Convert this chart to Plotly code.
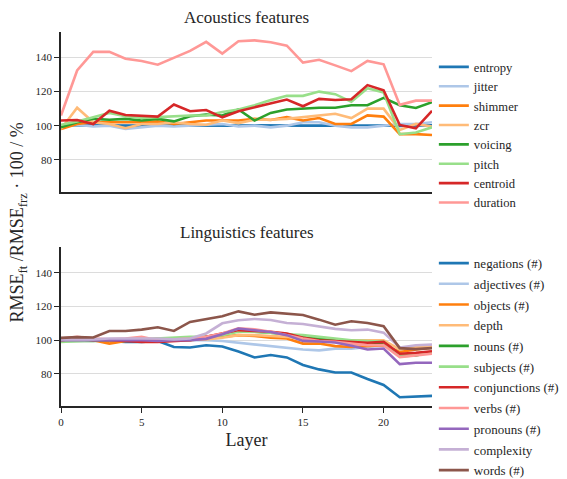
import plotly.graph_objects as go

layers = list(range(24))

# Acoustics features
ac_names = ["entropy", "jitter", "shimmer", "zcr", "voicing", "pitch", "centroid", "duration"]
entropy = [100.2, 100.1, 100, 100.3, 99.8, 100, 100.1, 100, 100.2, 100, 100.1, 100, 100.2, 100, 100.1, 100, 100, 100.1, 100, 100, 100.1, 99.8, 100, 100.2]
jitter = [100, 100.5, 99.5, 100, 98, 99, 100, 99.5, 100, 100.5, 101, 99.5, 100, 99, 100, 102, 102, 100, 99, 99, 100, 101, 101, 102]
shimmer = [98, 101, 102, 102, 102, 102, 102.5, 101, 102, 103, 103, 103, 104, 103.3, 105, 103, 104.5, 101, 101, 106, 105.3, 95, 95, 94.5]
zcr = [98, 110.5, 102, 101, 98.5, 101, 101, 102, 101, 100.5, 103, 101.5, 103.5, 103.5, 104, 105, 106, 107, 104.5, 110, 110, 97.5, 101, 99.5]
voicing = [99, 102, 104, 103.5, 104, 103, 104, 102.5, 105.5, 106.5, 106, 109.5, 103, 107.5, 109.5, 110, 110.5, 110.5, 112, 112, 116.3, 112, 110.4, 113.8]
pitch = [100.5, 102.5, 105, 107.5, 105.5, 104.5, 105, 105.5, 106, 106, 108, 109.5, 112, 115, 117.5, 117.5, 120, 118.5, 114, 122, 119.5, 95, 96, 99]
centroid = [103, 103.3, 101, 108.8, 106.3, 105.9, 105.3, 112.4, 108.5, 109.2, 104.9, 108.5, 110.8, 113.2, 115.3, 111.4, 115.7, 115.1, 115.5, 123.8, 120.8, 100.4, 98.4, 108.7]
duration = [106, 132.4, 143.3, 143.3, 139.3, 138, 135.8, 140, 143.9, 149.2, 142.3, 149.6, 150.1, 149, 147, 137, 138.7, 135.4, 132, 138, 136, 112.2, 114.7, 114.7]

# Linguistics features
li_names = ["negations (#)", "adjectives (#)", "objects (#)", "depth", "nouns (#)", "subjects (#)",
            "conjunctions (#)", "verbs (#)", "pronouns (#)", "complexity", "words (#)"]
negations = [100.5, 100, 100, 99.5, 99, 99, 99.5, 96, 95.7, 97, 96.3, 93.3, 89.8, 91.2, 89.8, 85.3, 82.7, 80.9, 80.9, 77, 73.5, 66.2, 66.4, 67]
adjectives = [100, 100, 100, 100, 100, 100, 100, 100, 100, 100, 99.5, 98.5, 97.5, 96.5, 95.5, 94.5, 94, 95, 95, 96, 97, 93.5, 95, 96]
objects = [99.5, 100, 100, 98, 99.5, 100, 101, 100, 100, 101, 102, 103, 102.5, 101.5, 101, 98, 98, 96.5, 96, 96.5, 97, 93, 94.5, 95.5]
depth = [100, 100, 100, 100, 100.5, 100.5, 100.5, 100, 100.5, 100.5, 101.5, 103, 103, 102.5, 102, 100.5, 100, 100, 100, 100, 100, 94.5, 96, 96.5]
nouns = [99.5, 99.5, 99.5, 100, 100, 100, 100.5, 101, 101, 102, 103.5, 105.5, 105, 104.5, 103.5, 102, 101, 100, 99.5, 99, 98, 90.5, 91, 93]
subjects = [99, 99.5, 100, 100, 100, 100.5, 101, 101.5, 102, 102, 103, 105, 105, 104.5, 103.5, 103, 102, 101, 100, 99.5, 99, 91.5, 92, 93]
conjunctions = [100, 101, 100, 100, 99.5, 99, 99, 99.5, 100, 102, 104, 106, 105.5, 105, 104, 101.5, 100, 99.5, 99, 98.5, 99, 92, 92.5, 93.5]
verbs = [101, 102, 101, 100.5, 101, 102, 100, 100.5, 101, 102, 104, 107, 106.5, 105, 103, 101, 99.5, 99, 98, 97, 97, 90, 91, 92]
pronouns = [100, 100, 100, 100, 100, 100, 99.5, 100, 100, 100.8, 103.5, 106.9, 105.9, 104.9, 103, 99.6, 99.2, 98.6, 96.7, 94.5, 95.1, 85.8, 86.6, 86.6]
complexity = [100.5, 100.5, 100.5, 101, 101, 101, 101, 100.5, 101, 104, 110, 111.8, 112.6, 112, 110.2, 109.6, 108.3, 106.7, 105.9, 106.3, 104.5, 95.7, 97, 97.4]
words = [101.4, 101.8, 101.6, 105.5, 105.5, 106.3, 107.7, 105.5, 110.8, 112.6, 114.2, 117.1, 115.1, 116.5, 115.7, 114.9, 112.2, 109.2, 111.2, 110.2, 108.3, 95.3, 94.7, 95.3]

ac_series = [entropy, jitter, shimmer, zcr, voicing, pitch, centroid, duration]
li_series = [negations, adjectives, objects, depth, nouns, subjects, conjunctions, verbs, pronouns, complexity, words]

palette = ["#1f77b4", "#aec7e8", "#ff7f0e", "#ffbb78", "#2ca02c", "#98df8a",
           "#d62728", "#ff9896", "#9467bd", "#c5b0d5", "#8c564b"]

FONT = "Liberation Serif"
fig = go.Figure()

for i, (name, vals) in enumerate(zip(ac_names, ac_series)):
    fig.add_trace(go.Scatter(x=layers, y=vals, mode="lines", name=name,
                             line=dict(color=palette[i], width=2.6),
                             xaxis="x", yaxis="y", legend="legend"))

for i, (name, vals) in enumerate(zip(li_names, li_series)):
    fig.add_trace(go.Scatter(x=layers, y=vals, mode="lines", name=name,
                             line=dict(color=palette[i], width=2.6),
                             xaxis="x2", yaxis="y2", legend="legend2",
                             legendgroup="l" + name))

yax = dict(range=[61, 155], tickvals=[80, 100, 120, 140], showgrid=True,
           gridcolor="#dcdcdc", gridwidth=1, zeroline=False, showline=True,
           linecolor="#262626", linewidth=1.5, ticks="outside", ticklen=5,
           tickcolor="#262626", tickfont=dict(size=11, family=FONT, color="#262626"))
xbase = dict(range=[0, 23], zeroline=False, showgrid=False, showline=True,
             linecolor="#262626", linewidth=1.5)

fig.update_layout(
    width=567, height=479,
    margin=dict(l=53, r=143, t=24, b=81, autoexpand=False),
    paper_bgcolor="white", plot_bgcolor="white",
    font=dict(family=FONT, color="#262626"),
    xaxis=dict(**xbase, domain=[0, 1], anchor="y", showticklabels=False, ticks=""),
    yaxis=dict(**yax, domain=[0.572, 1], anchor="x"),
    xaxis2=dict(**xbase, domain=[0, 1], anchor="y2", tickvals=[0, 5, 10, 15, 20],
                ticks="outside", ticklen=5, tickcolor="#262626",
                tickfont=dict(size=11, family=FONT, color="#262626"),
                title=dict(text="Layer", font=dict(size=18, family=FONT), standoff=6)),
    yaxis2=dict(**yax, domain=[0, 0.424], anchor="x2"),
    legend=dict(x=1.005, y=0.946, xanchor="left", yanchor="top",
                font=dict(size=12.6, family=FONT),
                bgcolor="rgba(0,0,0,0)", itemwidth=30),
    legend2=dict(x=1.005, y=0.422, xanchor="left", yanchor="top",
                 font=dict(size=13, family=FONT), tracegroupgap=0.8,
                 bgcolor="rgba(0,0,0,0)", itemwidth=30),
    annotations=[
        dict(text="Acoustics features", x=0.5, y=1, xref="paper", yref="paper",
             xanchor="center", yanchor="bottom", yshift=3, showarrow=False,
             font=dict(size=17, family=FONT)),
        dict(text="Linguistics features", x=0.5, y=0.424, xref="paper", yref="paper",
             xanchor="center", yanchor="bottom", yshift=3, showarrow=False,
             font=dict(size=17, family=FONT)),
        dict(text="RMSE<sub>ft</sub> /RMSE<sub>frz</sub> · 100 / %", x=-0.114, y=0.49,
             xref="paper", yref="paper", xanchor="center", yanchor="middle",
             textangle=-90, showarrow=False, font=dict(size=18, family=FONT)),
    ],
)

fig.write_html("out.html")
